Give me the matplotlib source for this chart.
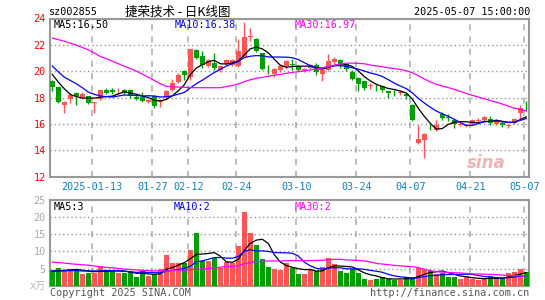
import matplotlib
matplotlib.use('Agg')
import matplotlib.pyplot as plt
import numpy as np
import pandas as pd

# daily candles, 2025-01-02 .. 2025-05-07 (80 trading days)
opens = [19.25, 18.80, 17.45, 17.89, 18.34, 18.04, 18.10, 17.56, 17.93, 18.55,
         18.55, 18.40, 18.58, 18.60, 18.08, 18.04, 17.68, 18.15, 17.68, 18.04,
         18.55, 19.18, 20.01, 19.55, 21.58, 21.12, 20.39, 20.62, 20.06, 20.57,
         20.49, 20.36, 21.07, 22.62, 22.48, 21.37, 20.03, 19.76, 20.11, 20.36,
         20.51, 20.36, 20.01, 20.26, 20.44, 19.81, 20.11, 20.69, 20.87, 20.57,
         19.93, 19.48, 19.25, 18.87, 18.89, 18.85, 18.47, 18.35, 18.37, 18.29,
         17.41, 14.58, 14.76, 15.79, 15.52, 16.73, 16.49, 16.32, 15.95, 15.88,
         15.97, 16.26, 16.27, 16.40, 15.97, 16.07, 15.88, 16.07, 16.83, 17.30]
highs = [19.30, 18.82, 17.74, 18.34, 18.39, 18.39, 18.12, 17.70, 18.60, 18.75,
         18.72, 18.70, 18.62, 18.65, 18.20, 18.39, 17.92, 18.20, 17.92, 18.55,
         19.43, 19.85, 20.08, 21.70, 21.68, 21.55, 20.90, 21.37, 20.40, 20.95,
         20.95, 22.46, 23.70, 23.30, 22.55, 21.40, 20.44, 20.26, 20.56, 20.86,
         20.94, 20.45, 20.25, 20.55, 20.62, 20.15, 21.32, 21.05, 20.95, 20.60,
         20.06, 19.55, 19.28, 19.10, 19.05, 18.92, 18.50, 18.55, 18.55, 18.35,
         17.48, 15.89, 15.31, 16.02, 16.27, 16.90, 16.73, 16.40, 16.07, 16.00,
         16.35, 16.47, 16.60, 16.57, 16.35, 16.22, 16.02, 16.45, 17.41, 17.71]
lows = [18.49, 17.59, 16.85, 17.59, 17.41, 17.91, 17.53, 16.83, 17.84, 18.24,
        18.24, 18.24, 18.30, 17.98, 17.82, 17.68, 17.60, 17.23, 17.28, 17.80,
        18.50, 19.10, 19.35, 19.35, 20.95, 20.26, 20.30, 20.11, 19.93, 20.45,
        20.40, 20.30, 21.00, 22.33, 21.45, 20.11, 19.76, 19.60, 19.93, 20.20,
        20.11, 20.05, 19.95, 20.20, 19.70, 19.25, 20.02, 20.55, 20.26, 20.05,
        19.30, 18.49, 18.60, 18.67, 18.47, 18.42, 17.99, 18.12, 18.22, 17.91,
        16.22, 14.51, 13.42, 15.52, 15.45, 16.32, 16.22, 15.73, 15.87, 15.80,
        15.92, 16.02, 16.20, 15.89, 15.92, 15.79, 15.67, 16.02, 16.40, 17.00]
closes = [18.80, 17.64, 17.66, 18.22, 18.09, 18.24, 17.59, 17.66, 18.55, 18.34,
          18.39, 18.46, 18.42, 18.12, 17.90, 17.74, 17.85, 17.40, 17.85, 18.47,
          19.13, 19.73, 19.68, 21.65, 20.99, 20.44, 20.82, 20.24, 20.36, 20.87,
          20.87, 21.52, 22.59, 22.66, 21.52, 20.19, 20.00, 20.19, 20.36, 20.77,
          20.48, 20.11, 20.19, 20.44, 19.93, 20.11, 20.77, 20.94, 20.57, 20.14,
          19.43, 19.05, 18.75, 18.97, 18.86, 18.55, 18.34, 18.33, 18.40, 18.12,
          16.27, 14.83, 15.26, 15.76, 15.94, 16.47, 16.46, 16.02, 15.98, 15.90,
          16.27, 16.28, 16.52, 16.07, 16.27, 15.89, 15.90, 16.40, 17.23, 17.28]
# volume, 万手
volumes = [4.5, 5.2, 4.5, 5.0, 4.5, 3.5, 3.7, 3.7, 5.7, 4.1,
           4.3, 3.8, 3.6, 4.0, 2.5, 4.2, 2.9, 3.0, 4.9, 8.9,
           6.7, 6.5, 6.7, 10.4, 15.3, 7.3, 7.3, 8.0, 5.3, 7.0,
           6.5, 11.5, 21.4, 15.3, 11.8, 7.7, 5.5, 4.9, 4.6, 6.7,
           5.2, 3.5, 3.5, 4.7, 4.4, 5.5, 8.1, 6.3, 4.4, 3.8,
           4.8, 3.8, 2.0, 1.6, 2.0, 2.4, 2.0, 1.8, 1.6, 2.4,
           2.4, 5.2, 5.0, 4.3, 3.4, 3.6, 2.6, 2.6, 2.0, 2.4,
           2.0, 1.8, 2.0, 2.7, 2.0, 2.3, 3.7, 4.1, 4.8, 4.0]

# moving averages before the window fills
ma5_head = [19.76, 19.18, 18.67, 18.24]
ma10_head = [20.40, 19.95, 19.55, 19.30, 19.05, 18.75, 18.42, 18.25, 18.12]
ma30_head = [22.51, 22.40, 22.28, 22.13, 21.98, 21.80, 21.63, 21.38, 21.12, 20.95,
             20.76, 20.57, 20.38, 20.20, 20.01, 19.78, 19.54, 19.30, 19.05, 18.85,
             18.82, 18.80, 18.78, 18.76, 18.75, 18.75, 18.75, 18.75, 18.75]
vma5_head = [4.2, 4.3, 4.5, 4.6]
vma10_head = [4.3, 4.3, 4.3, 4.4, 4.4, 4.3, 4.3, 4.3, 4.3]
vma30_head = [6.9, 6.75, 6.6, 6.4, 6.25, 6.1, 6.0, 5.75, 5.5, 5.35,
              5.2, 5.0, 4.85, 4.7, 4.6, 4.5, 4.4, 4.3, 4.3, 4.3,
              4.4, 4.5, 4.6, 4.7, 4.8, 4.9, 5.0, 5.2, 5.4]

tick_idx = [7, 17, 23, 31, 41, 51, 60, 70, 79]
tick_labels = ['2025-01-13', '01-27', '02-12', '02-24', '03-10', '03-24',
               '04-07', '04-21', '05-07']
price_ticks = [12, 14, 16, 18, 20, 22, 24]
vol_ticks = [5, 10, 15, 20, 25]


def moving(values, n, head):
    out = pd.Series(values).rolling(n).mean().values
    out[:n - 1] = head
    return out


RED = '#FF5555'
GREEN = '#009F00'
FRAME = '#999999'
plt.rcParams['font.family'] = ['DejaVu Sans Mono']
FS = 7.3

o = np.array(opens); h = np.array(highs); l = np.array(lows); c = np.array(closes)
x = np.arange(len(c))
up = c >= o
cols = np.where(up, RED, GREEN)

fig = plt.figure(figsize=(5.45, 3.0), dpi=100)
ax = fig.add_axes([50 / 545, 1 - 176.7 / 300, 479 / 545, (176.7 - 18.5) / 300])
axv = fig.add_axes([50 / 545, 1 - 285.7 / 300, 479 / 545, (285.7 - 200) / 300])

# candles
ax.vlines(x, l, h, colors=cols, lw=1, zorder=3)
body = np.maximum(np.abs(c - o), 0.04)
ax.bar(x, body, bottom=np.minimum(o, c), width=0.75, color=cols, lw=0, zorder=4)

ax.plot(x, moving(c, 5, ma5_head), color='black', lw=0.9, zorder=5)
ax.plot(x, moving(c, 10, ma10_head), color='#0000FF', lw=0.9, zorder=5)
ax.plot(x, moving(c, 30, ma30_head), color='#FF00FF', lw=0.9, zorder=5)

# volume
v = np.array(volumes)
axv.bar(x, v, width=0.8, color=cols, lw=0, zorder=3)
axv.plot(x, moving(v, 5, vma5_head), color='black', lw=0.9, zorder=5)
axv.plot(x, moving(v, 10, vma10_head), color='#0000FF', lw=0.9, zorder=5)
axv.plot(x, moving(v, 30, vma30_head), color='#FF00FF', lw=0.9, zorder=5)

for a in (ax, axv):
    a.set_xlim(-0.38, 79.45)
    a.set_xticks(np.array(tick_idx) - 0.33)
    a.xaxis.grid(True, linestyle=(0, (4, 4)), color='#AAAAAA', lw=1.1)
    a.yaxis.grid(True, linestyle=(0, (1, 2)), color='#999999', lw=1)
    a.set_axisbelow(True)
    for s in a.spines.values():
        s.set_color(FRAME)
        s.set_linewidth(1.5)
    a.tick_params(length=0, labelsize=FS)

ax.set_ylim(12, 24)
ax.set_yticks(price_ticks)
ax.tick_params(axis='y', labelcolor='#FF0000', pad=3)
ax.set_xticklabels(tick_labels)
ax.tick_params(axis='x', labelcolor='#1080C8', pad=4)

axv.set_ylim(0, 25)
axv.set_yticks(vol_ticks)
axv.tick_params(axis='y', labelcolor='#AAAAAA', pad=3)
axv.set_xticklabels([])


def px(xp, yp, s, **kw):
    fig.text(xp / 545, 1 - yp / 300, s, va='center', fontsize=FS, **kw)


px(49, 12, 'sz002855')
fig.text(178 / 545, 1 - 12 / 300, '捷荣技术 - 日K线图', ha='center', va='center',
         fontsize=9, family=['Noto Sans CJK SC', 'DejaVu Sans'])
px(530, 12, '2025-05-07 15:00:00', ha='right')

px(54, 25, 'MA5:16.50', color='black')
px(175, 25, 'MA10:16.38', color='#0000FF')
px(295, 25, 'MA30:16.97', color='#FF00FF')

px(54, 207, 'MA5:3', color='black')
px(174, 207, 'MA10:2', color='#0000FF')
px(295, 207, 'MA30:2', color='#FF00FF')

fig.text(30 / 545, 1 - 286 / 300, 'x万', va='center', fontsize=FS, color='#BBBBBB',
         family=['DejaVu Sans Mono', 'Noto Sans CJK SC'])
px(50, 293, 'Copyright 2025 SINA.COM', color='#555555')
px(529, 293, 'http://finance.sina.com.cn', ha='right', color='#555555')

fig.text(486 / 545, 1 - 163 / 300, 'sina', ha='center', va='center', fontsize=12,
         fontweight='bold', style='italic', color='#F0B4B4', family='DejaVu Sans',
         zorder=0)

fig.savefig('out.png', dpi=100)
